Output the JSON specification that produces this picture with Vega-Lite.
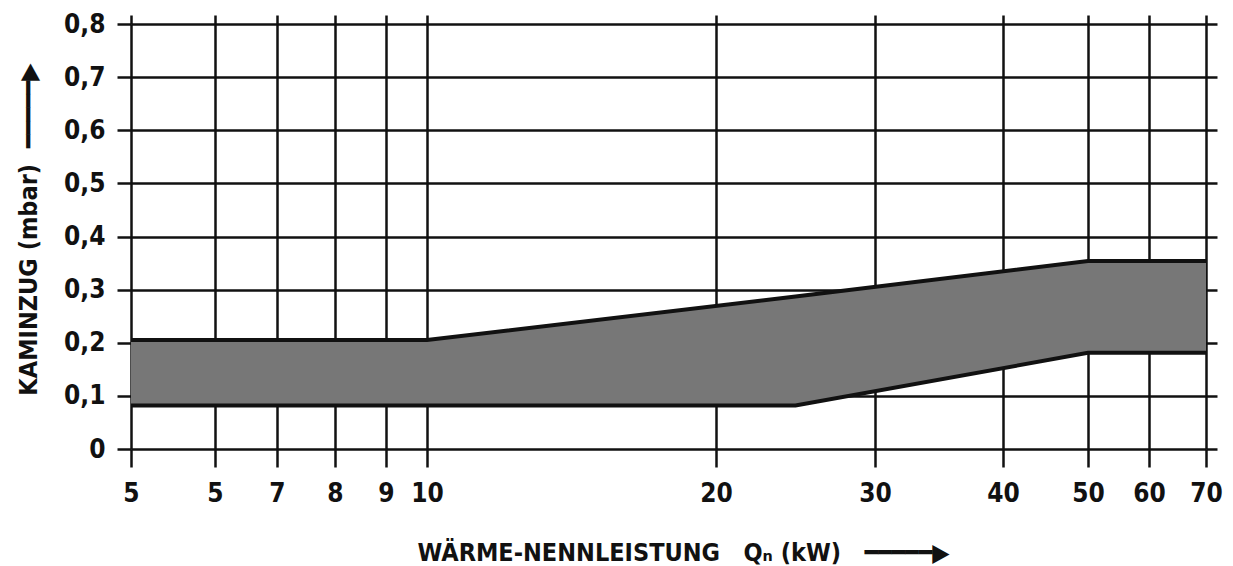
{
  "$schema": "https://vega.github.io/schema/vega-lite/v6.json",
  "autosize": {"type": "none"},
  "padding": {"left": 131, "top": 24, "right": 27, "bottom": 117},
  "width": 1075,
  "height": 425,
  "background": "white",
  "config": {
    "view": {"stroke": null},
    "font": "DejaVu Sans Condensed, Liberation Sans, sans-serif",
    "axis": {
      "labelFont": "DejaVu Sans Condensed, Liberation Sans, sans-serif",
      "labelFontWeight": "bold",
      "labelFontSize": 26,
      "labelColor": "#111",
      "titleFont": "DejaVu Sans Condensed, Liberation Sans, sans-serif",
      "titleFontWeight": "bold",
      "titleFontSize": 25,
      "titleColor": "#111",
      "gridColor": "#111",
      "gridWidth": 2.5,
      "gridOpacity": 1,
      "tickColor": "#111",
      "tickWidth": 2.5,
      "domain": false,
      "zindex": 1
    }
  },
  "data": {
    "values": [
      {"q": 5, "lo": 0.082, "hi": 0.205},
      {"q": 10, "lo": 0.082, "hi": 0.205},
      {"q": 25, "lo": 0.082, "hi": 0.287},
      {"q": 50, "lo": 0.181, "hi": 0.354},
      {"q": 70, "lo": 0.181, "hi": 0.354}
    ]
  },
  "encoding": {
    "x": {
      "field": "q",
      "type": "quantitative",
      "scale": {
        "type": "linear",
        "domain": [5, 6, 7, 8, 9, 10, 20, 30, 40, 50, 60, 70],
        "range": [0, 84, 146, 204, 255, 296, 585, 744, 872, 957, 1018, 1075],
        "nice": false,
        "zero": false
      }
    }
  },
  "layer": [
    {
      "mark": {"type": "area", "color": "#777777", "opacity": 1},
      "encoding": {
        "y": {
          "field": "lo",
          "type": "quantitative",
          "scale": {"domain": [0, 0.8], "nice": false, "zero": false},
          "axis": {
            "orient": "left",
            "values": [0, 0.1, 0.2, 0.3, 0.4, 0.5, 0.6, 0.7, 0.8],
            "labelExpr": "datum.value == 0 ? '0' : replace(format(datum.value, '.1f'), '.', ',')",
            "tickSize": 14,
            "labelPadding": 12,
            "grid": true,
            "title": "KAMINZUG (mbar)\u00a0\u00a0━━━━━▶",
            "titleAngle": -90,
            "titleAlign": "center",
            "titleBaseline": "alphabetic",
            "titleX": -95,
            "titleY": 205
          }
        },
        "y2": {"field": "hi"},
        "x": {
          "field": "q",
          "type": "quantitative",
          "axis": {
            "orient": "bottom",
            "values": [5, 6, 7, 8, 9, 10, 20, 30, 40, 50, 60, 70],
            "labelExpr": "datum.value == 6 ? '5' : format(datum.value, 'd')",
            "tickSize": 18,
            "labelPadding": 13,
            "labelOverlap": false,
            "labelFlush": false,
            "grid": true,
            "title": "WÄRME-NENNLEISTUNG\u00a0\u00a0\u00a0Qₙ (kW)\u00a0\u00a0\u00a0━━━━━▶",
            "titleAlign": "center",
            "titleAnchor": null,
            "titleBaseline": "alphabetic",
            "titleX": 552,
            "titleY": 111
          }
        }
      }
    },
    {
      "mark": {"type": "line", "color": "#111", "strokeWidth": 4},
      "encoding": {
        "y": {
          "field": "hi",
          "type": "quantitative",
          "axis": {
            "orient": "right",
            "values": [0, 0.1, 0.2, 0.3, 0.4, 0.5, 0.6, 0.7, 0.8],
            "tickSize": 11,
            "labels": false,
            "grid": false,
            "title": null
          }
        },
        "x": {
          "field": "q",
          "type": "quantitative",
          "axis": {
            "orient": "top",
            "values": [5, 6, 7, 8, 9, 10, 20, 30, 40, 50, 60, 70],
            "tickSize": 9,
            "labels": false,
            "grid": false,
            "title": null
          }
        }
      }
    },
    {
      "mark": {"type": "line", "color": "#111", "strokeWidth": 4},
      "encoding": {
        "y": {"field": "lo", "type": "quantitative", "axis": null},
        "x": {"field": "q", "type": "quantitative", "axis": null}
      }
    }
  ],
  "resolve": {"axis": {"x": "independent", "y": "independent"}}
}
